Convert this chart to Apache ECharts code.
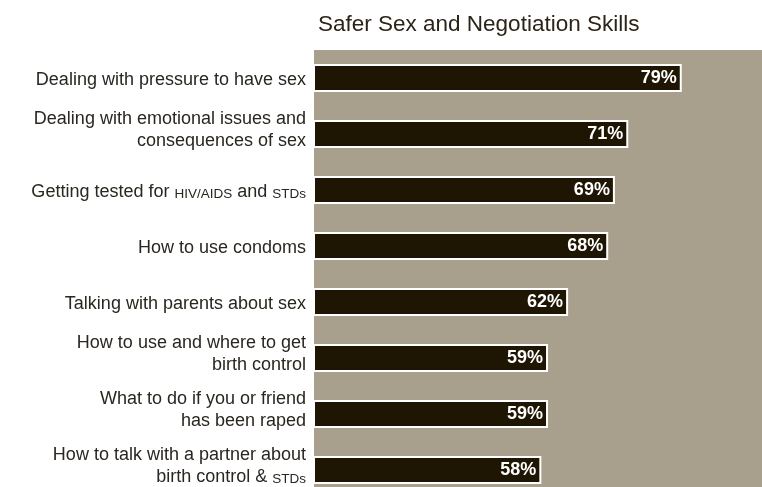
<!DOCTYPE html>
<html>
<head>
<meta charset="utf-8">
<script src="https://cdn.jsdelivr.net/npm/echarts@6/dist/echarts.min.js"></script>
<style>
html,body{margin:0;padding:0;background:#fff;}
#chart{width:762px;height:487px;}
</style>
</head>
<body>
<div id="chart"></div>
<script>
var titleText = 'Safer Sex and Negotiation Skills';
var categories = [
  'Dealing with pressure to have sex',
  'Dealing with emotional issues and\nconsequences of sex',
  'Getting tested for HIV/AIDS and STDs',
  'How to use condoms',
  'Talking with parents about sex',
  'How to use and where to get\nbirth control',
  'What to do if you or friend\nhas been raped',
  'How to talk with a partner about\nbirth control & STDs'
];
var values = [79, 71, 69, 68, 62, 59, 59, 58];
var smallCapsWords = /(HIV\/AIDS|STDs)/;

function richLine(line) {
  return line.split(smallCapsWords).filter(function (p) { return p.length; }).map(function (p) {
    return smallCapsWords.test(p) && p.match(smallCapsWords)[0] === p ? '{sc|' + p + '}' : '{n|' + p + '}';
  }).join('');
}

var chart = echarts.init(document.getElementById('chart'), null, {renderer: 'canvas'});
chart.setOption({
  animation: false,
  backgroundColor: '#ffffff',
  title: {
    text: titleText,
    left: 313,
    top: 8,
    textStyle: {fontFamily: 'Liberation Sans', fontSize: 22.5, fontWeight: 'normal', color: '#2b2418'}
  },
  grid: {
    left: 314, width: 448, top: 50, height: 448,
    outerBoundsMode: 'none',
    containLabel: false,
    show: true, backgroundColor: '#a8a08c', borderWidth: 0
  },
  xAxis: {
    type: 'value', min: 24, max: 91,
    show: false
  },
  yAxis: {
    type: 'category',
    data: categories,
    inverse: true,
    axisLine: {show: false},
    axisTick: {show: false},
    splitLine: {show: false},
    axisLabel: {
      margin: 8,
      fontFamily: 'Liberation Sans',
      fontSize: 18,
      lineHeight: 22,
      color: '#2a2620',
      align: 'right',
      formatter: function (v) {
        var lines = v.split('\n').map(richLine);
        if (lines.length > 1) {
          lines.push('{gap| }');
        }
        return lines.join('\n');
      },
      rich: {
        n: {fontFamily: 'Liberation Sans', fontSize: 18, lineHeight: 22, verticalAlign: 'bottom', color: '#2a2620'},
        sc: {fontFamily: 'Liberation Sans', fontSize: 13.5, lineHeight: 22, verticalAlign: 'bottom', color: '#2a2620'},
        gap: {fontSize: 6, lineHeight: 12}
      }
    }
  },
  series: [{
    type: 'bar',
    data: values,
    barWidth: 28,
    itemStyle: {color: '#1e1602', borderColor: '#ffffff', borderWidth: 2},
    label: {
      show: true,
      position: 'insideRight',
      distance: 5,
      formatter: '{c}%',
      fontFamily: 'Liberation Sans',
      fontSize: 18,
      fontWeight: 'bold',
      color: '#ffffff'
    }
  }]
});
</script>
</body>
</html>
